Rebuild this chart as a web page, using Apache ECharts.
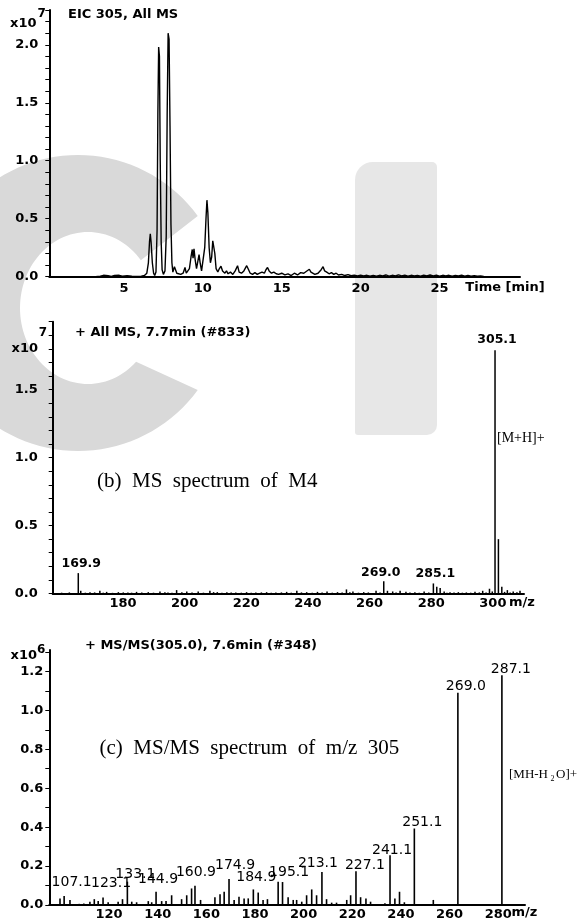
<!DOCTYPE html>
<html><head><meta charset="utf-8">
<script src="https://cdn.jsdelivr.net/npm/echarts@6/dist/echarts.min.js"></script>
<style>html,body{margin:0;padding:0;background:#fff}#c{width:582px;height:923px}</style>
</head><body><div id="c"></div>
<script>
// (a) EIC 305 chromatogram, intensity x10^7
const rtTime = [3.0,3.1,3.2,3.5,3.7,3.8,4.0,4.2,4.4,4.5,4.7,4.9,5.0,5.2,5.3,5.5,5.6,5.8,5.9,6.1,6.3,6.45,6.55,6.62,6.67,6.72,6.8,6.88,6.95,7.03,7.1,7.15,7.2,7.25,7.3,7.36,7.42,7.5,7.6,7.68,7.74,7.8,7.86,7.92,7.98,8.04,8.1,8.2,8.27,8.35,8.45,8.6,8.75,8.87,8.95,9.05,9.15,9.25,9.33,9.38,9.44,9.52,9.6,9.68,9.76,9.83,9.92,10.02,10.12,10.2,10.26,10.32,10.4,10.48,10.56,10.63,10.69,10.76,10.84,10.95,11.05,11.15,11.25,11.4,11.5,11.6,11.75,11.9,12.05,12.2,12.3,12.45,12.6,12.78,12.9,13.0,13.15,13.3,13.45,13.6,13.75,13.9,14.0,14.1,14.2,14.35,14.5,14.65,14.8,15.0,15.2,15.4,15.6,15.8,16.0,16.2,16.4,16.55,16.75,16.85,16.95,17.1,17.3,17.5,17.62,17.72,17.85,18.0,18.15,18.3,18.45,18.6,18.8,19.0,19.2,19.4,19.6,19.8,20.0,20.2,20.4,20.6,20.8,21.0,21.2,21.4,21.6,21.8,22.0,22.2,22.4,22.6,22.8,23.0,23.2,23.4,23.6,23.8,24.0,24.2,24.4,24.6,24.8,25.0,25.2,25.4,25.6,25.8,26.0,26.2,26.4,26.6,26.8,27.0,27.2,27.4,27.6,27.8,28.1];
const rtIntensity = [0.0,0.012,0.0,0.005,0.012,0.002,0.008,0.003,0.01,0.002,0.012,0.005,0.015,0.008,0.012,0.005,0.01,0.003,0.012,0.004,0.01,0.03,0.12,0.3,0.37,0.3,0.12,0.03,0.01,0.04,0.4,1.4,1.98,1.9,1.0,0.3,0.06,0.02,0.05,0.35,1.4,2.1,2.05,1.3,0.45,0.12,0.04,0.086,0.06,0.03,0.025,0.02,0.03,0.08,0.03,0.04,0.07,0.17,0.235,0.16,0.24,0.14,0.07,0.13,0.19,0.12,0.05,0.06,0.25,0.5,0.66,0.55,0.25,0.12,0.17,0.31,0.32,0.2,0.07,0.04,0.07,0.09,0.05,0.03,0.05,0.025,0.04,0.02,0.05,0.095,0.04,0.03,0.05,0.095,0.06,0.03,0.02,0.035,0.02,0.03,0.04,0.03,0.06,0.08,0.05,0.03,0.04,0.025,0.02,0.03,0.015,0.025,0.01,0.03,0.015,0.035,0.03,0.045,0.064,0.04,0.035,0.02,0.03,0.06,0.086,0.05,0.04,0.025,0.035,0.02,0.03,0.015,0.02,0.01,0.018,0.008,0.014,0.006,0.014,0.006,0.012,0.004,0.012,0.005,0.012,0.006,0.015,0.005,0.012,0.006,0.016,0.007,0.013,0.005,0.012,0.006,0.011,0.005,0.013,0.006,0.015,0.007,0.014,0.005,0.012,0.006,0.012,0.005,0.01,0.006,0.013,0.004,0.01,0.005,0.009,0.004,0.006,0.002];
const rtTicks = [5,10,15,20,25];
const eicYLabels = [0,0.5,1.0,1.5,2.0];
const eicYTicks = [0,0.1,0.2,0.3,0.4,0.5,0.6,0.7,0.8,0.9,1.0,1.1,1.2,1.3,1.4,1.5,1.6,1.7,1.8,1.9,2.0,2.1,2.2,2.3];

// (b) MS spectrum at 7.7 min, intensity x10^7
const msMz = [164.5,167.0,169.9,170.7,172.2,173.7,175.2,176.9,178.0,179.1,181.0,182.9,184.5,186.0,187.2,188.8,190.5,192.6,194.3,196.4,198.0,199.0,200.3,201.8,203.5,205.1,206.8,208.8,210.5,212.6,213.8,215.0,216.5,218.1,219.5,221.0,222.8,224.5,226.0,227.5,229.3,231.0,232.5,234.0,235.8,237.5,239.0,240.8,242.3,244.0,245.8,247.5,249.0,250.6,252.3,254.0,255.5,256.9,258.0,259.0,260.8,262.5,264.0,266.5,267.8,269.0,270.2,271.9,273.0,274.3,276.2,277.5,279.1,280.5,282.1,283.6,285.1,286.2,287.3,288.6,289.5,290.5,291.8,293.2,294.5,295.8,297.2,298.6,300.0,301.1,302.2,303.3,304.2,305.1,306.2,307.3,308.2,309.1,310.0,311.0,312.2,313.2];
const msIntensity = [0.006,0.008,0.15,0.02,0.006,0.01,0.008,0.02,0.006,0.012,0.005,0.01,0.008,0.008,0.006,0.012,0.008,0.01,0.006,0.015,0.01,0.008,0.006,0.025,0.01,0.015,0.008,0.015,0.006,0.02,0.01,0.01,0.006,0.01,0.008,0.008,0.006,0.01,0.006,0.008,0.008,0.01,0.006,0.008,0.008,0.012,0.006,0.02,0.008,0.01,0.006,0.012,0.008,0.015,0.006,0.01,0.008,0.03,0.01,0.015,0.006,0.01,0.008,0.02,0.008,0.09,0.02,0.015,0.008,0.02,0.012,0.008,0.01,0.006,0.015,0.008,0.074,0.05,0.04,0.015,0.006,0.01,0.008,0.01,0.006,0.008,0.006,0.012,0.008,0.02,0.008,0.035,0.015,1.79,0.40,0.05,0.012,0.025,0.008,0.015,0.01,0.02];
const msLabelMz = [169.9,269.0,285.1,305.1];
const msLabelText = ['169.9','269.0','285.1','305.1'];
const msXTicks = [180,200,220,240,260,280,300];
const msYLabels = [0,0.5,1.0,1.5];
const msYTicks = [0,0.1,0.2,0.3,0.4,0.5,0.6,0.7,0.8,0.9,1.0,1.1,1.2,1.3,1.4,1.5,1.6,1.7,1.8,1.9,2.0];

// (c) MS/MS spectrum of m/z 305, intensity x10^6
const ms2Mz = [105.4,107.1,109.5,111.5,113.3,115.2,117.7,119.5,121.1,123.1,125.2,127.2,129.3,131.1,133.1,134.9,136.9,139.5,141.7,143.1,144.9,147.2,149.0,151.3,153.4,155.4,157.5,159.5,160.9,163.2,165.0,167.0,169.1,171.2,172.9,174.9,177.0,179.0,181.1,182.8,184.9,186.9,188.9,190.7,195.1,196.9,199.2,201.3,202.7,204.8,206.8,208.9,210.9,213.1,215.0,217.1,219.1,221.0,223.3,224.9,227.1,229.0,231.2,233.1,235.5,239.0,241.1,243.1,245.0,247.0,249.0,251.1,253.0,255.0,257.0,258.9,261.0,263.5,266.0,269.0,271.0,273.5,276.0,278.5,281.0,283.5,287.1,289.5,291.5,293.5];
const ms2Intensity = [0.034,0.046,0.026,0.005,0.006,0.008,0.017,0.03,0.02,0.038,0.014,0.005,0.017,0.03,0.12,0.017,0.014,0.005,0.02,0.014,0.068,0.02,0.02,0.05,0.005,0.03,0.05,0.085,0.099,0.026,0.005,0.005,0.04,0.055,0.068,0.133,0.026,0.043,0.034,0.034,0.08,0.064,0.026,0.03,0.12,0.118,0.04,0.026,0.026,0.017,0.05,0.08,0.05,0.17,0.03,0.012,0.012,0.005,0.026,0.05,0.174,0.04,0.034,0.017,0.005,0.009,0.256,0.034,0.068,0.014,0.005,0.393,0.005,0.004,0.005,0.026,0.005,0.004,0.005,1.09,0.004,0.004,0.005,0.004,0.005,0.004,1.18,0.005,0.004,0.005];
const ms2LabelMz = [107.1,123.1,133.1,144.9,160.9,174.9,184.9,195.1,213.1,227.1,241.1,251.1,269.0,287.1];
const ms2LabelText = ['107.1','123.1','133.1','144.9','160.9','174.9','184.9','195.1','213.1','227.1','241.1','251.1','269.0','287.1'];
const ms2XTicks = [120,140,160,180,200,220,240,260,280];
const ms2YLabels = [0,0.2,0.4,0.6,0.8,1.0,1.2];
const ms2YTicks = [0,0.1,0.2,0.3,0.4,0.5,0.6,0.7,0.8,0.9,1.0,1.1,1.2,1.3];

// label nudges (style only)
const msLabelOffset = {'169.9':[3,-3],'269.0':[-3,-2.5],'285.1':[2,-3],'305.1':[2,-4]};
const ms2LabelOffset = {'107.1':[7.5,-7],'123.1':[8,-7],'133.1':[8,-0.5],'144.9':[2,-5],'160.9':[1,-6],'174.9':[6,-7],'184.9':[3,-5.5],'195.1':[11,-2.5],'213.1':[-4,-1.5],'227.1':[9,1],'241.1':[2,2],'251.1':[8,0.5],'269.0':[8,1],'287.1':[9,1]};

const FONT = '"DejaVu Sans", "Liberation Sans", sans-serif';
const SERIF = '"Liberation Serif", "DejaVu Serif", serif';

function stickData(mz, inten, lblMz, lblText, offsets, lblStyle) {
  return mz.map((m, i) => {
    const k = lblMz.indexOf(m);
    const item = { value: [m, inten[i]] };
    if (k >= 0) {
      const t = lblText[k];
      item.label = Object.assign({ show: true, position: 'top', distance: 0, formatter: t, offset: offsets[t] || [0, 0] }, lblStyle);
    }
    return item;
  });
}

const axisLineStyle = { lineStyle: { color: '#000', width: 2 } };
function yAxis(grid, max, labels, ticks, margin) {
  return {
    type: 'value', gridIndex: grid, min: 0, max: max,
    axisLine: Object.assign({ show: true }, axisLineStyle),
    splitLine: { show: false },
    axisTick: { show: true, customValues: ticks, length: 4, inside: false, lineStyle: { color: '#000', width: 1 } },
    axisLabel: { customValues: labels, formatter: v => v.toFixed(1), margin: margin, color: '#000', fontFamily: FONT, fontWeight: 'bold', fontSize: 13 }
  };
}
function xAxis(grid, min, max, labels, align, margin) {
  return {
    type: 'value', gridIndex: grid, min: min, max: max,
    axisLine: Object.assign({ show: true, onZero: false }, axisLineStyle),
    splitLine: { show: false },
    axisTick: { show: false },
    axisLabel: { customValues: labels, align: align, margin: margin, color: '#000', fontFamily: FONT, fontWeight: 'bold', fontSize: 13 }
  };
}

function txt(x, y, text, font, align) {
  return { type: 'text', x: x, y: y, z: 50, style: { text: text, font: font, fill: '#000', textAlign: align || 'left', textVerticalAlign: 'middle' } };
}

// watermark "C" outline (decoration only)
function cShape() {
  const pts = [];
  const d2r = Math.PI / 180;
  for (let a = -36; a >= -325; a -= 3) pts.push([78 + 148 * Math.cos(a * d2r), 303 + 148 * Math.sin(a * d2r)]);
  for (let a = 45; a <= 322; a += 3) pts.push([88 + 68 * Math.cos(a * d2r), 308 + 76 * Math.sin(a * d2r)]);
  return pts;
}

const option = {
  backgroundColor: '#fff',
  animation: false,
  grid: [
    { left: 49.3, right: 62, top: 10, bottom: 646.3 },
    { left: 52.7, right: 58, top: 321.7, bottom: 329.5 },
    { left: 49.3, right: 57, top: 650, bottom: 18 }
  ],
  xAxis: [
    xAxis(0, 0.27, 30.1, rtTicks, 'center', 5),
    xAxis(1, 161.6, 314.5, msXTicks, 'left', 4),
    xAxis(2, 101.0, 296.6, ms2XTicks, 'left', 3)
  ],
  yAxis: [
    yAxis(0, 2.3, eicYLabels, eicYTicks, 11),
    yAxis(1, 2.0, msYLabels, msYTicks, 15),
    yAxis(2, 1.31, ms2YLabels, ms2YTicks, 6)
  ],
  series: [
    { type: 'line', xAxisIndex: 0, yAxisIndex: 0, showSymbol: false, symbol: 'none',
      lineStyle: { color: '#000', width: 1.4 },
      data: rtTime.map((t, i) => [t, rtIntensity[i]]) },
    { type: 'bar', xAxisIndex: 1, yAxisIndex: 1, barWidth: 1.5, itemStyle: { color: '#000' },
      data: stickData(msMz, msIntensity, msLabelMz, msLabelText, msLabelOffset,
        { color: '#000', fontFamily: FONT, fontWeight: 'bold', fontSize: 12.5 }) },
    { type: 'bar', xAxisIndex: 2, yAxisIndex: 2, barWidth: 1.6, itemStyle: { color: '#000' },
      data: stickData(ms2Mz, ms2Intensity, ms2LabelMz, ms2LabelText, ms2LabelOffset,
        { color: '#000', fontFamily: FONT, fontWeight: 'normal', fontSize: 14 }) }
  ],
  graphic: [
    { type: 'polygon', z: -10, silent: true, shape: { points: cShape() }, style: { fill: '#d9d9d9' } },
    { type: 'rect', z: -10, silent: true,
      shape: { x: 355, y: 162, width: 82, height: 273, r: [18, 5, 10, 3] },
      style: { fill: '#e7e7e7' } },
    txt(68, 15, 'EIC 305, All MS', 'bold 13px ' + FONT),
    txt(10, 23.5, 'x10', 'bold 13px ' + FONT),
    txt(37.5, 14, '7', 'bold 12px ' + FONT),
    txt(505, 287.5, 'Time [min]', 'bold 13px ' + FONT, 'center'),

    txt(75, 333, '+ All MS, 7.7min (#833)', 'bold 13px ' + FONT),
    txt(43, 332.5, '7', 'bold 12px ' + FONT, 'center'),
    txt(11.5, 349, 'x10', 'bold 13px ' + FONT),
    txt(522, 603, 'm/z', 'bold 13px ' + FONT, 'center'),
    txt(97, 481.5, '(b)  MS  spectrum  of  M4', '21px ' + SERIF),
    txt(497, 438, '[M+H]+', '14px ' + SERIF),

    txt(85, 646, '+ MS/MS(305.0), 7.6min (#348)', 'bold 13px ' + FONT),
    txt(10.5, 655.5, 'x10', 'bold 13px ' + FONT),
    txt(37, 650, '6', 'bold 12px ' + FONT),
    txt(524.5, 913, 'm/z', 'bold 13px ' + FONT, 'center'),
    txt(99.5, 748, '(c)  MS/MS  spectrum  of  m/z  305', '21px ' + SERIF),
    txt(509, 775, '[MH-H', '13px ' + SERIF),
    txt(550.5, 779, '2', '8px ' + SERIF),
    txt(556, 775, 'O]+', '13px ' + SERIF)
  ]
};

const chart = echarts.init(document.getElementById('c'), null, { renderer: 'canvas' });
chart.setOption(option);
</script></body></html>
